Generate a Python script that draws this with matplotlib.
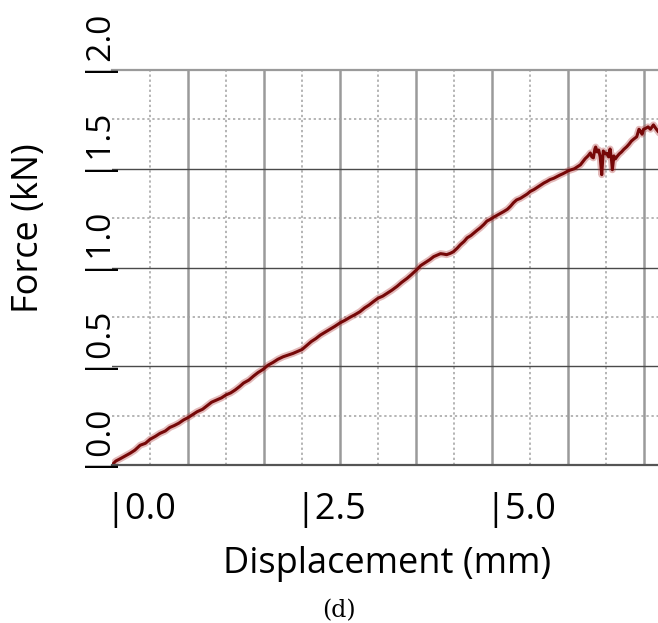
import numpy as np
import matplotlib
matplotlib.use('Agg')
from matplotlib import pyplot as plt
from matplotlib.transforms import blended_transform_factory

plt.rcParams['font.family'] = ['Open Sans', 'DejaVu Sans']

# displacement (mm) and force (kN)
disp = [0.00, 0.05, 0.10, 0.17, 0.24, 0.30, 0.37, 0.44, 0.50, 0.57, 0.63, 0.70,
        0.76, 0.82, 0.88, 0.94, 1.00, 1.06, 1.12, 1.19, 1.25, 1.31, 1.38, 1.44,
        1.50, 1.56, 1.62, 1.68, 1.73, 1.80, 1.86, 1.92, 1.99, 2.05, 2.12, 2.18,
        2.25, 2.31, 2.38, 2.44, 2.50, 2.56, 2.62, 2.68, 2.74, 2.80, 2.87, 2.93,
        3.00, 3.06, 3.13, 3.19, 3.26, 3.32, 3.38, 3.44, 3.50, 3.56, 3.62, 3.68,
        3.75, 3.81, 3.88, 3.94, 4.01, 4.06, 4.12, 4.18, 4.23, 4.28, 4.32, 4.36,
        4.40, 4.45, 4.49, 4.54, 4.58, 4.63, 4.67, 4.72, 4.76, 4.80, 4.84, 4.89,
        4.93, 4.98, 5.02, 5.08, 5.15, 5.20, 5.24, 5.28, 5.32, 5.37, 5.41, 5.46,
        5.50, 5.55, 5.59, 5.64, 5.68, 5.72, 5.76, 5.81, 5.85, 5.89, 5.93, 5.97,
        6.00, 6.04, 6.08, 6.12, 6.16, 6.19, 6.22, 6.26, 6.29, 6.31, 6.33, 6.35,
        6.36, 6.38, 6.40, 6.42, 6.44, 6.46, 6.49, 6.51, 6.53, 6.55, 6.57, 6.58,
        6.60, 6.62, 6.64, 6.67, 6.70, 6.73, 6.77, 6.80, 6.83, 6.86, 6.90, 6.93,
        6.95, 6.97, 6.99, 7.02, 7.05, 7.08, 7.12, 7.15, 7.18]
force = [0.000, 0.020, 0.030, 0.045, 0.060, 0.075, 0.100, 0.110, 0.130, 0.145, 0.160, 0.172,
         0.190, 0.200, 0.212, 0.228, 0.240, 0.255, 0.270, 0.282, 0.300, 0.318, 0.330, 0.340,
         0.355, 0.365, 0.380, 0.398, 0.415, 0.430, 0.450, 0.468, 0.485, 0.505, 0.520, 0.535,
         0.548, 0.556, 0.565, 0.575, 0.585, 0.605, 0.625, 0.640, 0.658, 0.672, 0.688, 0.702,
         0.720, 0.732, 0.748, 0.760, 0.776, 0.795, 0.810, 0.828, 0.845, 0.855, 0.870, 0.885,
         0.905, 0.925, 0.945, 0.965, 0.990, 1.010, 1.025, 1.040, 1.055, 1.063, 1.070, 1.068,
         1.065, 1.072, 1.080, 1.098, 1.115, 1.132, 1.150, 1.162, 1.175, 1.188, 1.200, 1.218,
         1.235, 1.245, 1.255, 1.268, 1.283, 1.295, 1.310, 1.328, 1.342, 1.350, 1.360, 1.372,
         1.385, 1.395, 1.405, 1.418, 1.428, 1.436, 1.445, 1.452, 1.460, 1.468, 1.475, 1.483,
         1.490, 1.495, 1.500, 1.510, 1.520, 1.535, 1.550, 1.565, 1.580, 1.560, 1.555, 1.600,
         1.610, 1.585, 1.595, 1.560, 1.470, 1.590, 1.575, 1.578, 1.560, 1.600, 1.540, 1.495,
         1.565, 1.550, 1.561, 1.575, 1.585, 1.598, 1.612, 1.625, 1.640, 1.650, 1.662, 1.700,
         1.690, 1.675, 1.700, 1.705, 1.712, 1.700, 1.722, 1.705, 1.690]

xtick_vals = [0.0, 2.5, 5.0]
xtick_labels = ['|0.0', '|2.5', '|5.0']
ytick_vals = [0.0, 0.5, 1.0, 1.5, 2.0]
ytick_labels = ['|0.0', '|0.5', '|1.0', '|1.5', '|2.0']

fig = plt.figure(figsize=(6.58, 6.23), dpi=100)
ax = fig.add_axes([112/658, 1 - 465/623, 546/658, 395/623])

ax.set_xlim(0, 7.18)
ax.set_ylim(0, 2.0)

# grid: solid at whole mm / half kN, dotted in between
ax.set_xticks(np.arange(1, 8, 1.0))
ax.set_xticks(np.arange(0.5, 7.5, 1.0), minor=True)
ax.set_yticks(np.arange(0.5, 2.0, 0.5))
ax.set_yticks(np.arange(0.25, 2.0, 0.5), minor=True)
ax.tick_params(which='both', length=0, labelbottom=False, labelleft=False)
ax.grid(axis='x', which='major', color='#9a9a9a', lw=1.8, ls='-')
ax.grid(axis='y', which='major', color='#4a4a4a', lw=1.0, ls='-')
ax.grid(axis='both', which='minor', color='#a0a0a0', lw=1.1, ls=(0, (1.5, 1.8)))
ax.set_axisbelow(True)

for s in ['left', 'right']:
    ax.spines[s].set_visible(False)
ax.spines['top'].set_color('#9a9a9a')
ax.spines['top'].set_linewidth(1.6)
ax.spines['bottom'].set_color('#555555')
ax.spines['bottom'].set_linewidth(1.6)

ax.plot(disp, force, color='#b03a3a', lw=5.0, alpha=0.35)
ax.plot(disp, force, color='#760808', lw=2.2)

# custom tick labels with the leading bar at the tick
xt = ax.get_xaxis_transform()
for v, lab in zip(xtick_vals, xtick_labels):
    ax.text(v - 0.09, -0.137, lab, transform=xt, ha='left', va='baseline', fontsize=26)
yt = blended_transform_factory(ax.transAxes, ax.transData)
for v, lab in zip(ytick_vals, ytick_labels):
    ax.text(-0.032, v - 0.012, lab, transform=yt, rotation=90, rotation_mode='anchor',
            ha='left', va='center', fontsize=24)

ax.text(0.504, -0.273, 'Displacement (mm)', transform=ax.transAxes,
        ha='center', va='baseline', fontsize=26)
ax.text(-0.152, 0.6, 'Force (kN)', transform=ax.transAxes, rotation=90,
        ha='center', va='center', fontsize=26)

fig.text(339/658, 1 - 617/623, '(d)', ha='center', va='baseline',
         fontsize=17, family='DejaVu Serif')

fig.savefig('out.png', dpi=100)
